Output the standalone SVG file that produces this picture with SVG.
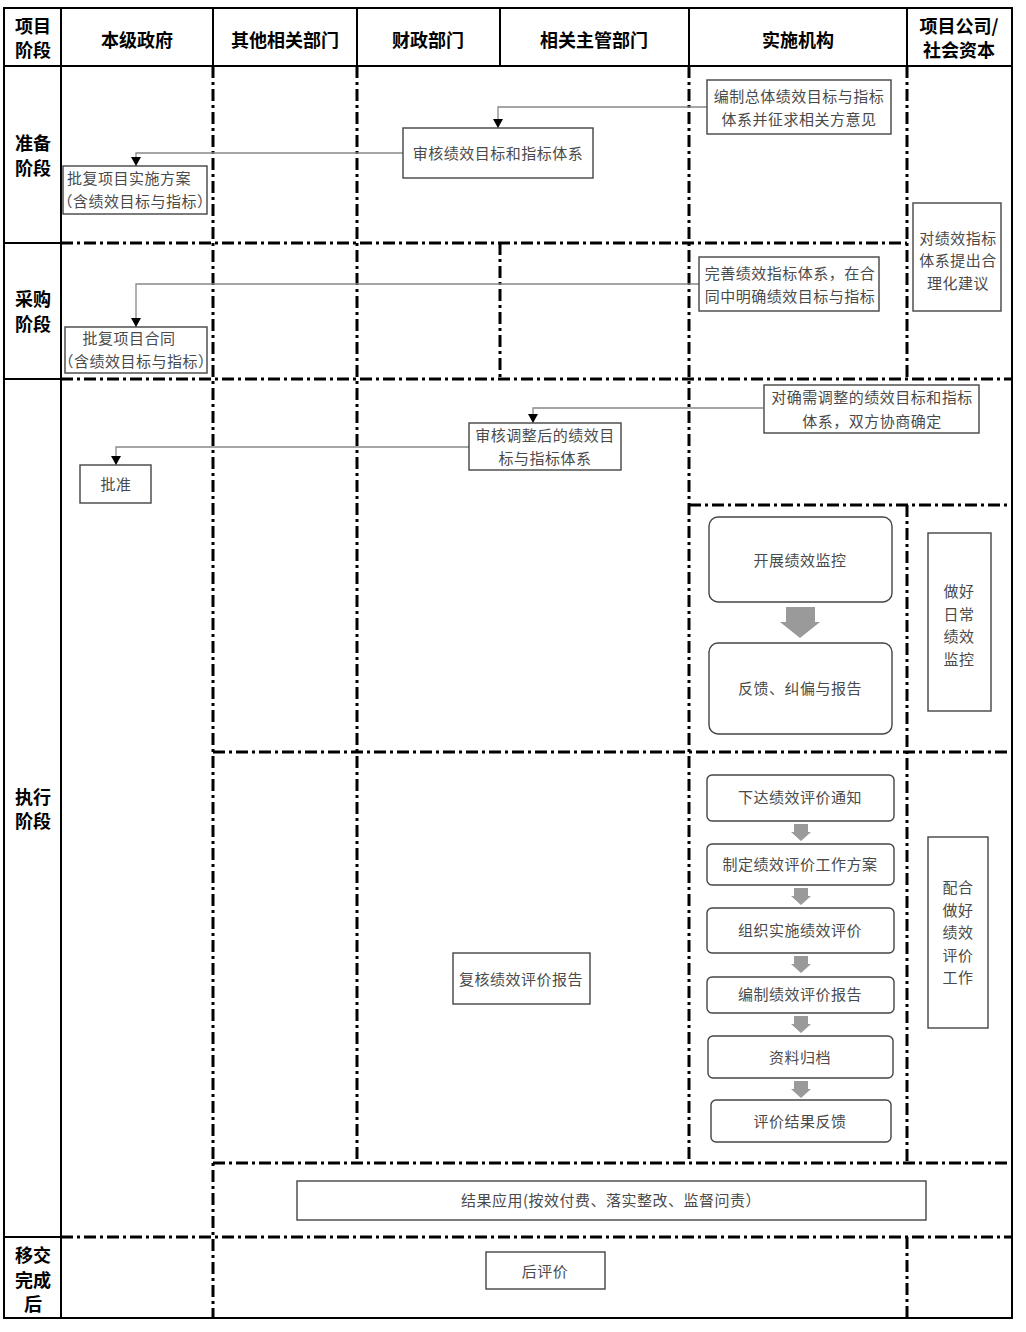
<svg xmlns="http://www.w3.org/2000/svg" width="1026" height="1332" viewBox="0 0 1026 1332">
<style>
.solid{stroke:#000;stroke-width:2;fill:none}
.dd{stroke:#000;stroke-width:3;fill:none;stroke-dasharray:12 4 3 4}
.hd{font-family:"Noto Sans CJK SC","Noto Sans",sans-serif;font-weight:700;font-size:18px;fill:#000;text-anchor:middle}
.box{fill:#fff;stroke:#444;stroke-width:1.4}
.tx{font-family:"Noto Sans CJK SC","Noto Sans",sans-serif;font-size:15px;fill:#4a4a4a;text-anchor:middle;letter-spacing:0.5px}
.conn{stroke:#888;stroke-width:1.3;fill:none}
.garrow{fill:#9a9a9a}
</style>
<defs>
<marker id="ah" markerUnits="userSpaceOnUse" markerWidth="10" markerHeight="10" refX="9" refY="5" orient="auto">
<path d="M0,0 L9,5 L0,10 Z" fill="#000"/>
</marker>
</defs>
<rect width="1026" height="1332" fill="#fff"/>

<g id="frame">
<rect class="solid" x="4" y="8" width="1008" height="1310"/>
<line class="solid" x1="4" y1="66" x2="1012" y2="66"/>
<line class="solid" x1="61" y1="8" x2="61" y2="1318"/>
<line class="solid" x1="213" y1="8" x2="213" y2="66"/>
<line class="solid" x1="357" y1="8" x2="357" y2="66"/>
<line class="solid" x1="500" y1="8" x2="500" y2="66"/>
<line class="solid" x1="689" y1="8" x2="689" y2="66"/>
<line class="solid" x1="907" y1="8" x2="907" y2="66"/>
<line class="solid" x1="4" y1="243" x2="61" y2="243"/>
<line class="solid" x1="4" y1="379" x2="61" y2="379"/>
<line class="solid" x1="4" y1="1237" x2="61" y2="1237"/>
</g>

<g id="lanes">
<line class="dd" x1="61" y1="243" x2="907" y2="243"/>
<line class="dd" x1="61" y1="379" x2="1012" y2="379"/>
<line class="dd" x1="689" y1="505" x2="1012" y2="505"/>
<line class="dd" x1="213" y1="752" x2="1012" y2="752"/>
<line class="dd" x1="213" y1="1163" x2="1012" y2="1163"/>
<line class="dd" x1="61" y1="1237" x2="1012" y2="1237"/>
<line class="dd" x1="213" y1="66" x2="213" y2="1318"/>
<line class="dd" x1="357" y1="66" x2="357" y2="1163"/>
<line class="dd" x1="500" y1="243" x2="500" y2="379"/>
<line class="dd" x1="689" y1="66" x2="689" y2="1163"/>
<line class="dd" x1="907" y1="66" x2="907" y2="379"/>
<line class="dd" x1="907" y1="505" x2="907" y2="1163"/>
<line class="dd" x1="907" y1="1237" x2="907" y2="1318"/>
</g>

<g id="headers">
<text class="hd" x="33" y="33">项目</text>
<text class="hd" x="33" y="57">阶段</text>
<text class="hd" x="137" y="47">本级政府</text>
<text class="hd" x="285" y="47">其他相关部门</text>
<text class="hd" x="428" y="47">财政部门</text>
<text class="hd" x="594" y="47">相关主管部门</text>
<text class="hd" x="798" y="47">实施机构</text>
<text class="hd" x="959" y="33">项目公司/</text>
<text class="hd" x="959" y="57">社会资本</text>
<text class="hd" x="33" y="150">准备</text>
<text class="hd" x="33" y="175">阶段</text>
<text class="hd" x="33" y="306">采购</text>
<text class="hd" x="33" y="331">阶段</text>
<text class="hd" x="33" y="804">执行</text>
<text class="hd" x="33" y="828">阶段</text>
<text class="hd" x="33" y="1262">移交</text>
<text class="hd" x="33" y="1287">完成</text>
<text class="hd" x="33" y="1311">后</text>
</g>

<g id="connectors">
<polyline class="conn" points="707,107 498,107 498,128" marker-end="url(#ah)"/>
<polyline class="conn" points="403,153 136,153 136,166" marker-end="url(#ah)"/>
<polyline class="conn" points="699,284 136,284 136,327" marker-end="url(#ah)"/>
<polyline class="conn" points="763,408 533,408 533,423" marker-end="url(#ah)"/>
<polyline class="conn" points="469,447 116,447 116,465" marker-end="url(#ah)"/>
<polygon class="garrow" points="786,607 815,607 815,622 820,622 800,638 780,622 786,622"/>
<polygon class="garrow" points="794,824 808,824 808,832 811,832 801,841 791,832 794,832"/>
<polygon class="garrow" points="794,888 808,888 808,896 811,896 801,905 791,896 794,896"/>
<polygon class="garrow" points="794,956 808,956 808,964 811,964 801,973 791,964 794,964"/>
<polygon class="garrow" points="794,1016 808,1016 808,1024 811,1024 801,1033 791,1024 794,1024"/>
<polygon class="garrow" points="794,1081 808,1081 808,1089 811,1089 801,1098 791,1089 794,1089"/>
</g>

<g id="n1"><rect class="box" x="707" y="80" width="184" height="54"/>
<text class="tx" x="799" y="102">编制总体绩效目标与指标</text>
<text class="tx" x="799" y="125">体系并征求相关方意见</text></g>

<g id="n2"><rect class="box" x="403" y="128" width="190" height="50"/>
<text class="tx" x="498" y="159">审核绩效目标和指标体系</text></g>

<g id="n3"><rect class="box" x="63" y="166" width="144" height="48"/>
<text class="tx" x="129" y="184">批复项目实施方案</text>
<text class="tx" x="135" y="207">（含绩效目标与指标）</text></g>

<g id="n4"><rect class="box" x="913" y="203" width="88" height="108"/>
<text class="tx" x="958" y="244">对绩效指标</text>
<text class="tx" x="958" y="266">体系提出合</text>
<text class="tx" x="958" y="289">理化建议</text></g>

<g id="n5"><rect class="box" x="699" y="257" width="180" height="54"/>
<text class="tx" x="790" y="279">完善绩效指标体系，在合</text>
<text class="tx" x="790" y="302">同中明确绩效目标与指标</text></g>

<g id="n6"><rect class="box" x="65" y="327" width="142" height="46"/>
<text class="tx" x="129" y="344">批复项目合同</text>
<text class="tx" x="136" y="367">（含绩效目标与指标）</text></g>

<g id="n7"><rect class="box" x="764" y="385" width="215" height="48"/>
<text class="tx" x="872" y="403">对确需调整的绩效目标和指标</text>
<text class="tx" x="872" y="427">体系，双方协商确定</text></g>

<g id="n8"><rect class="box" x="469" y="423" width="152" height="47"/>
<text class="tx" x="545" y="441">审核调整后的绩效目</text>
<text class="tx" x="545" y="464">标与指标体系</text></g>

<g id="n9"><rect class="box" x="80" y="465" width="71" height="38"/>
<text class="tx" x="116" y="490">批准</text></g>

<g id="n10"><rect class="box" x="709" y="517" width="183" height="85" rx="9"/>
<text class="tx" x="800" y="566">开展绩效监控</text></g>

<g id="n11"><rect class="box" x="709" y="643" width="183" height="91" rx="9"/>
<text class="tx" x="800" y="694">反馈、纠偏与报告</text></g>

<g id="n12"><rect class="box" x="928" y="533" width="63" height="178"/>
<text class="tx" x="959" y="597">做好</text>
<text class="tx" x="959" y="620">日常</text>
<text class="tx" x="959" y="642">绩效</text>
<text class="tx" x="959" y="665">监控</text></g>

<g id="n13"><rect class="box" x="707" y="775" width="187" height="46" rx="5"/>
<text class="tx" x="800" y="803">下达绩效评价通知</text></g>

<g id="n14"><rect class="box" x="707" y="844" width="187" height="41" rx="5"/>
<text class="tx" x="800" y="870">制定绩效评价工作方案</text></g>

<g id="n15"><rect class="box" x="707" y="908" width="187" height="45" rx="5"/>
<text class="tx" x="800" y="936">组织实施绩效评价</text></g>

<g id="n16"><rect class="box" x="707" y="977" width="187" height="36" rx="5"/>
<text class="tx" x="800" y="1000">编制绩效评价报告</text></g>

<g id="n17"><rect class="box" x="708" y="1036" width="185" height="42" rx="5"/>
<text class="tx" x="800" y="1063">资料归档</text></g>

<g id="n18"><rect class="box" x="711" y="1100" width="180" height="42" rx="5"/>
<text class="tx" x="800" y="1127">评价结果反馈</text></g>

<g id="n19"><rect class="box" x="928" y="837" width="60" height="191"/>
<text class="tx" x="958" y="893">配合</text>
<text class="tx" x="958" y="916">做好</text>
<text class="tx" x="958" y="938">绩效</text>
<text class="tx" x="958" y="961">评价</text>
<text class="tx" x="958" y="983">工作</text></g>

<g id="n20"><rect class="box" x="453" y="953" width="137" height="51"/>
<text class="tx" x="521" y="985">复核绩效评价报告</text></g>

<g id="n21"><rect class="box" x="297" y="1181" width="629" height="39"/>
<text class="tx" x="611" y="1206">结果应用(按效付费、落实整改、监督问责）</text></g>

<g id="n22"><rect class="box" x="486" y="1252" width="119" height="37"/>
<text class="tx" x="545" y="1277">后评价</text></g>
</svg>
